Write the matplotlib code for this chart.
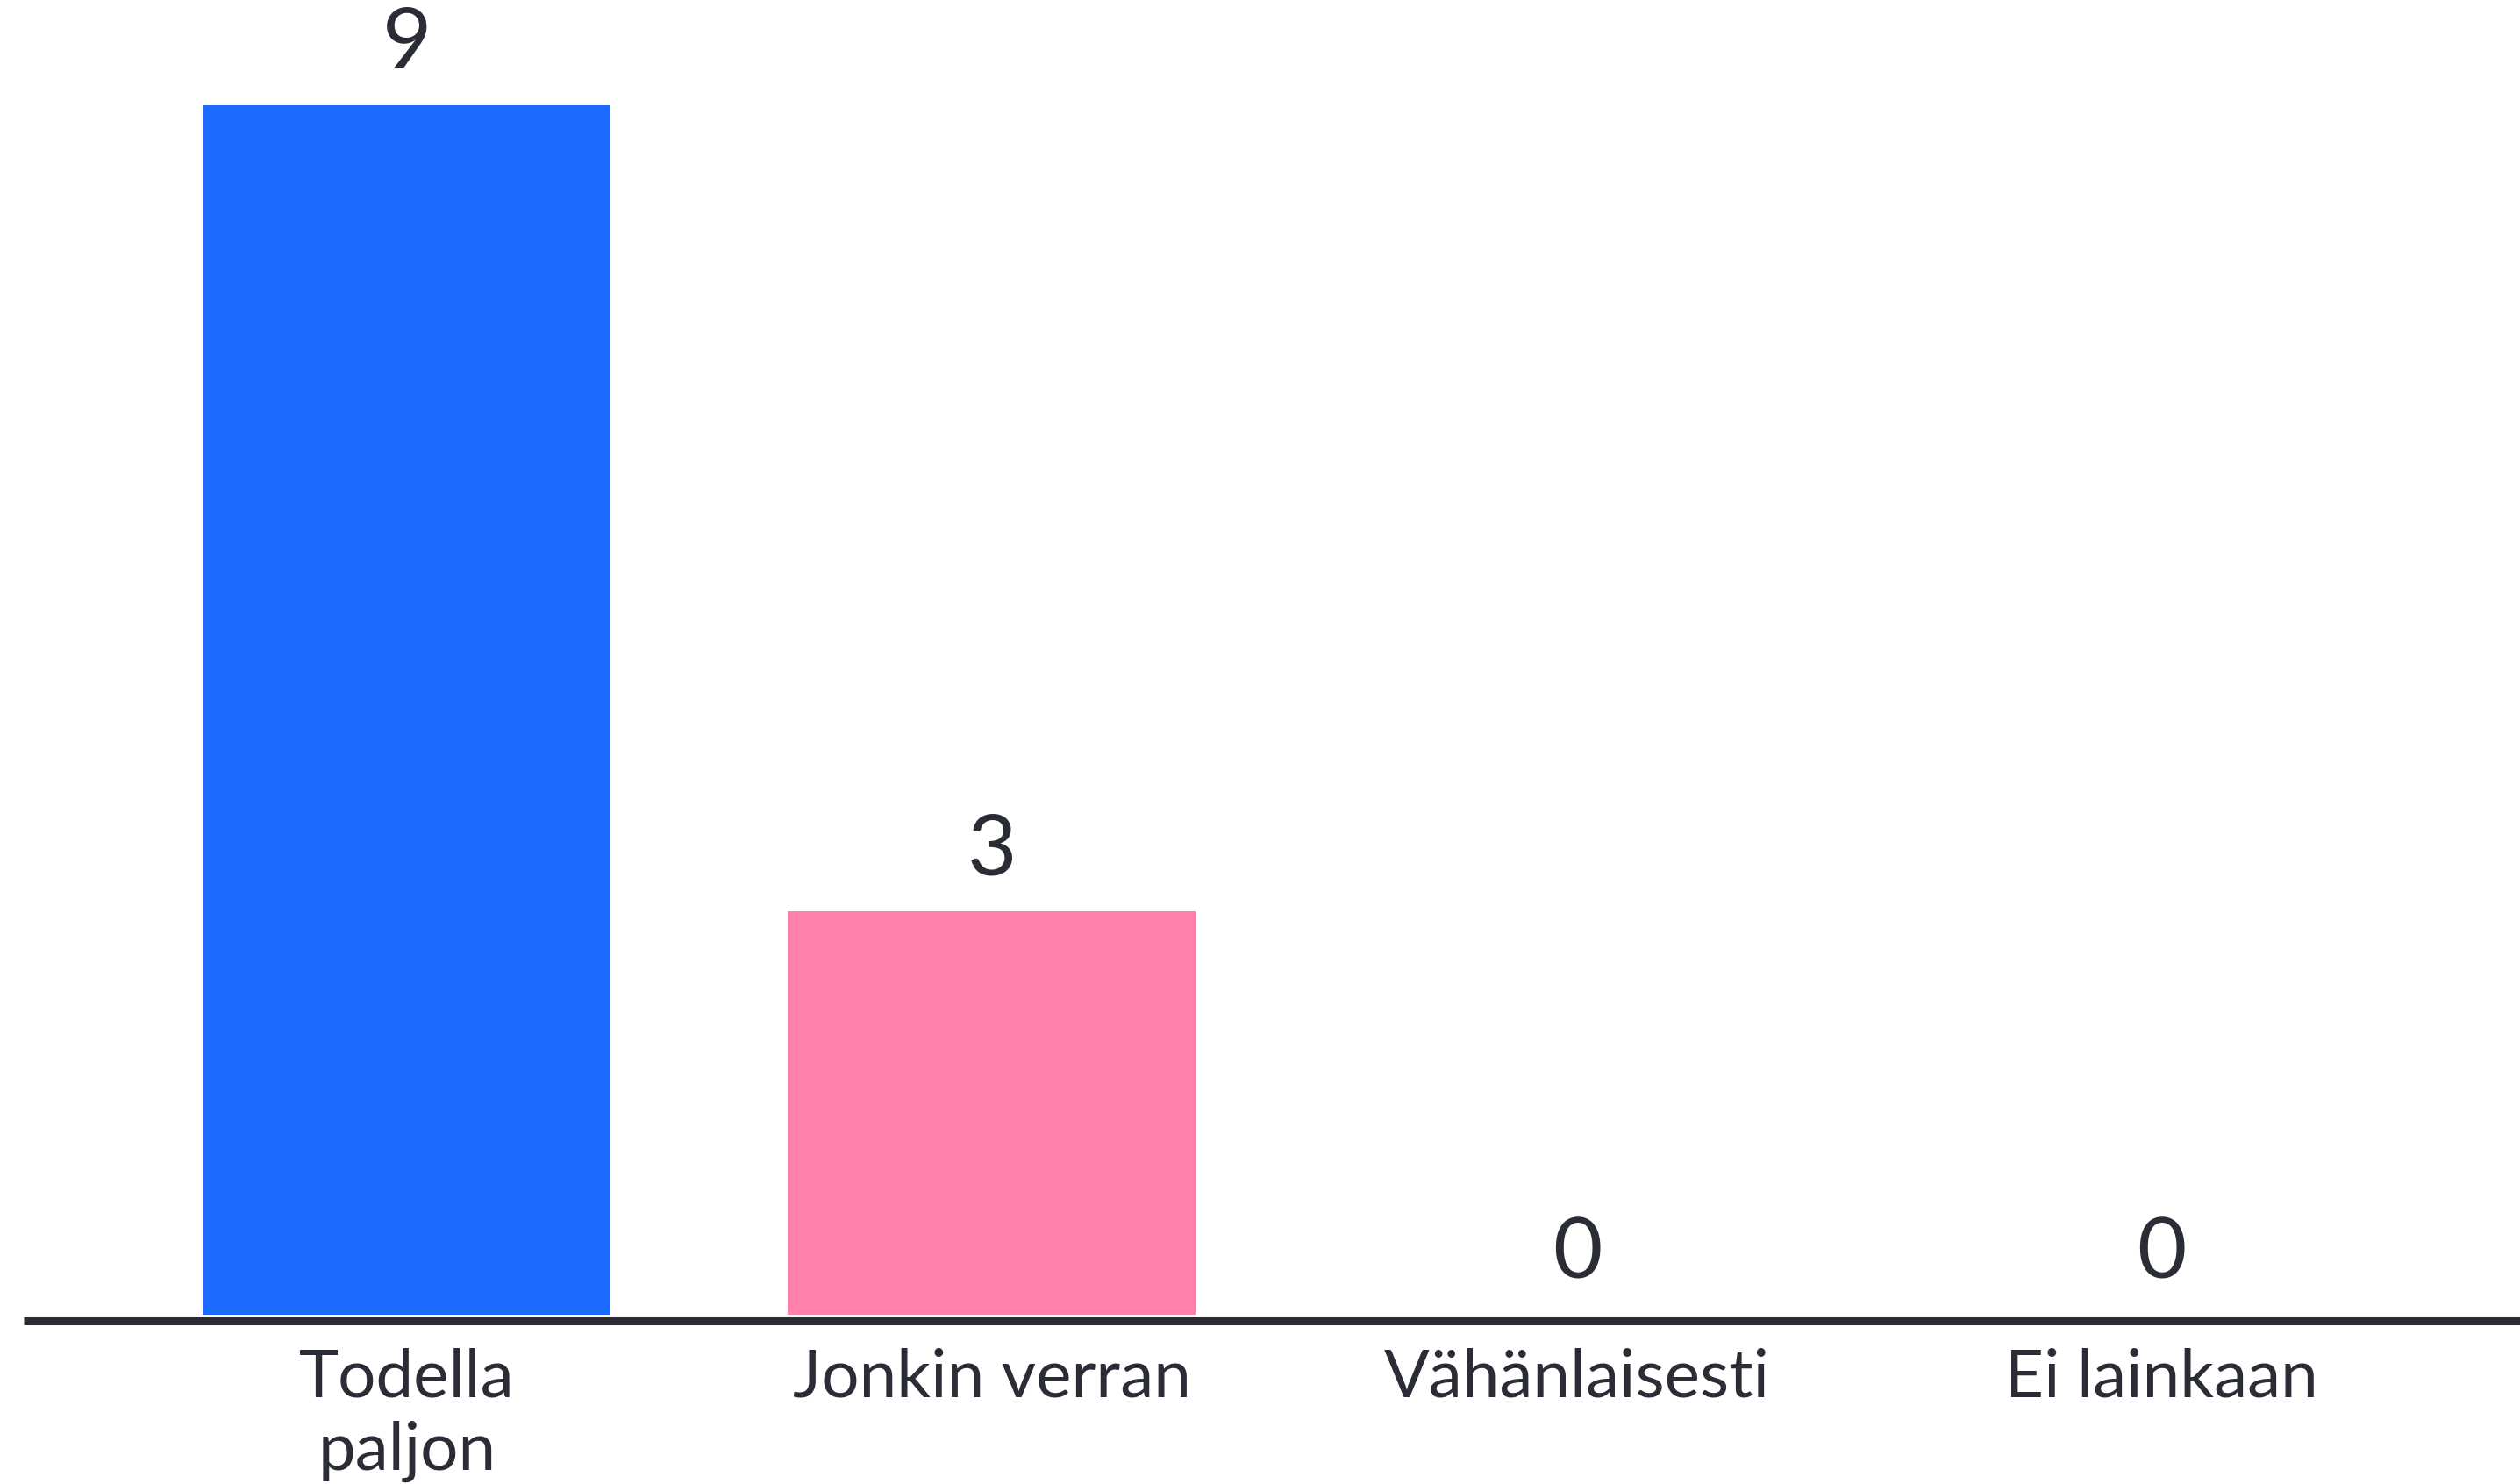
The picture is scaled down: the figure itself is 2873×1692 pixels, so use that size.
import matplotlib
matplotlib.use("Agg")
import matplotlib.pyplot as plt
import numpy as np

# data
categories = ["Todella\npaljon", "Jonkin verran", "Vähänlaisesti", "Ei lainkaan"]
counts = [9, 3, 0, 0]
bar_colors = ["#1c6bff", "#ff80aa", "#8fd9b6", "#ffd27a"]

text_color = "#2a2d36"
plt.rcParams['font.family'] = ['Lato', 'DejaVu Sans']

fig = plt.figure(figsize=(28.73, 16.92), dpi=100)
ax = fig.add_axes([27 / 2873, 0.1099, 1 - 27 / 2873, 1 - 0.1099])

x = np.arange(len(categories))
bars = ax.bar(x, counts, width=0.697, color=bar_colors, zorder=1)

for xi, v in zip(x, counts):
    ax.annotate(str(v), (xi, v), xytext=(0, 18), textcoords="offset points",
                ha="center", va="bottom", fontsize=70, color=text_color)

ax.set_xlim(-0.655, 3.612)
ax.set_ylim(-0.045, 9.78)

# baseline drawn a little under the bar bottoms, like the original
ax.axhline(-0.045, color=text_color, linewidth=6.5, zorder=3, clip_on=False,
           solid_capstyle="butt")

ax.set_xticks(x)
ax.set_xticklabels(categories, fontsize=55, color=text_color, linespacing=1.25)
ax.tick_params(axis="x", length=0, pad=22)
ax.set_yticks([])

for s in ["top", "right", "left", "bottom"]:
    ax.spines[s].set_visible(False)

fig.savefig("out.png", dpi=100)
